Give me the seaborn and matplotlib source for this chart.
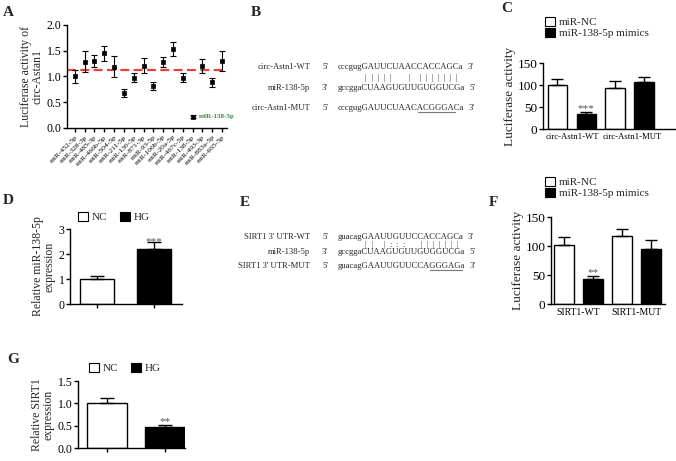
import numpy as np
import pandas as pd
import matplotlib
matplotlib.use("Agg")
import matplotlib.pyplot as plt
import seaborn as sns
from matplotlib.patches import Patch
from matplotlib.font_manager import FontProperties
from matplotlib.lines import Line2D

# ---------------- data ----------------
mirnas = ["miR-452-5p", "miR-328-3p", "miR-485-3p", "miR-466b-5p", "miR-504-5p",
          "miR-211-5p", "miR-136-5p", "miR-871-3p", "miR-93-5p", "miR-106b-5p",
          "miR-20a-5p", "miR-467c-5p", "miR-138-5p", "miR-493-3p", "miR-883a-5p",
          "miR-665-5p"]
luc_a = [1.00, 1.29, 1.30, 1.45, 1.19, 0.68, 0.98, 1.21, 0.82, 1.28, 1.53, 0.98,
         0.22, 1.20, 0.89, 1.30]
luc_a_err = [0.13, 0.20, 0.11, 0.14, 0.20, 0.07, 0.08, 0.15, 0.08, 0.10, 0.14, 0.08,
             0.03, 0.14, 0.09, 0.20]
ref_line = 1.12

c_groups = ["circ-Astn1-WT", "circ-Astn1-MUT"]
f_groups = ["SIRT1-WT", "SIRT1-MUT"]
mimic_conds = ["miR-NC", "miR-138-5p mimics"]
c_nc = [100, 94]
c_nc_err = [14, 15]
c_mim = [33, 106]
c_mim_err = [5, 12]
f_nc = [101, 117]
f_nc_err = [14, 12]
f_mim = [43, 95]
f_mim_err = [5, 16]

hg_conds = ["NC", "HG"]
d_vals = [1.0, 2.2]
d_err = [0.12, 0.30]
g_vals = [1.0, 0.47]
g_err = [0.13, 0.04]

seq_b = ["cccgugGAUUCUAACCACCAGCa", "gccggaCUAAGUGUUGUGGUCGa", "cccgugGAUUCUAACACGGGACa"]
names_b = ["circ-Astn1-WT", "miR-138-5p", "circ-Astn1-MUT"]
pairs_b = {6: "|", 7: "|", 8: "|", 9: "|", 10: "|", 13: "|", 15: "|", 16: "|", 17: "|",
           18: "|", 19: "|", 20: "|", 21: "|"}
under_b = (15, 21)

seq_e = ["guacagGAAUUGUUCCACCAGCa", "gccggaCUAAGUGUUGUGGUCGa", "guacagGAAUUGUUCCAGGGAGa"]
names_e = ["SIRT1 3' UTR-WT", "miR-138-5p", "SIRT1 3' UTR-MUT"]
pairs_e = {6: "|", 7: "|", 9: "|", 10: ":", 11: ":", 12: ":", 15: "|", 16: "|", 17: "|",
           18: "|", 19: "|", 20: "|", 21: "|"}
under_e = (17, 22)

# ---------------- style ----------------
sns.set_style("ticks")
plt.rcParams["font.family"] = ["Liberation Serif", "DejaVu Serif"]
plt.rcParams["axes.linewidth"] = 1.0
plt.rcParams["xtick.major.width"] = 1.0
plt.rcParams["ytick.major.width"] = 1.0
plt.rcParams["xtick.major.size"] = 3
plt.rcParams["ytick.major.size"] = 3
plt.rcParams["xtick.major.pad"] = 1.5
plt.rcParams["ytick.major.pad"] = 1
plt.rcParams["xtick.color"] = "black"
plt.rcParams["ytick.color"] = "black"
plt.rcParams["axes.edgecolor"] = "black"

W, H = 676, 461
fig = plt.figure(figsize=(W / 100, H / 100), dpi=100)


def rect(l, t, r, b):
    return [l / W, 1 - b / H, (r - l) / W, (b - t) / H]


def fx(x):
    return x / W


def fy(y):
    return 1 - y / H


def letter(x, y, s):
    fig.text(fx(x), fy(y), s, fontsize=11, fontweight="bold", ha="left", va="center")


# ---------------- Panel A ----------------
axA = fig.add_axes(rect(67, 25, 227, 128))
dfA = pd.DataFrame({"miRNA": mirnas, "value": luc_a})
axA.errorbar(np.arange(len(mirnas)), luc_a, yerr=luc_a_err, fmt="none",
             ecolor="black", elinewidth=0.8, capsize=2.4, capthick=0.8, zorder=2)
sns.scatterplot(data=dfA, x="miRNA", y="value", marker="s", s=10, color="black",
                edgecolor="black", linewidth=0.5, zorder=4, ax=axA)
axA.axhline(ref_line, color="#e8413a", lw=1.6, ls=(0, (4, 2)), zorder=1)
axA.set_ylim(0, 2.0)
axA.set_xlim(-0.8, 15.5)
axA.set_yticks([0, 0.5, 1.0, 1.5, 2.0])
axA.set_yticklabels(["0.0", "0.5", "1.0", "1.5", "2.0"], fontsize=8.5)
axA.set_xticks(range(len(mirnas)))
axA.set_xticklabels(mirnas, rotation=45, ha="right", rotation_mode="anchor", fontsize=5.4)
axA.set_xlabel("")
axA.set_ylabel("Luciferase activity of\ncirc-Astan1", fontsize=8.5, labelpad=2, linespacing=1.0)
sns.despine(ax=axA)
axA.text(12.6, 0.22, "miR-138-5p", color="#2e8b3e", fontsize=5, fontweight="bold",
         ha="left", va="center")
letter(3, 13, "A")


# ---------------- helper for mimic bar panels ----------------
def mimic_panel(r, groups, nc, nc_err, mim, mim_err, stars, xfs):
    ax = fig.add_axes(r)
    df = pd.DataFrame({
        "group": groups * 2,
        "cond": [mimic_conds[0]] * len(groups) + [mimic_conds[1]] * len(groups),
        "value": list(nc) + list(mim),
        "err": list(nc_err) + list(mim_err),
    })
    sns.barplot(data=df, x="group", y="value", hue="cond", hue_order=mimic_conds,
                palette={mimic_conds[0]: "white", mimic_conds[1]: "black"},
                edgecolor="black", linewidth=1.0, errorbar=None, legend=False,
                width=1.0, gap=0.32, ax=ax)
    for p in ax.patches:
        h = p.get_height()
        idx = int(np.argmin(np.abs(df["value"].values - h)))
        e = df["err"].values[idx]
        xc = p.get_x() + p.get_width() / 2
        ax.errorbar([xc], [h], yerr=[[0], [e]], fmt="none", ecolor="black",
                    elinewidth=1.0, capsize=4, capthick=1.0)
        if df["cond"].values[idx] == mimic_conds[1] and df["group"].values[idx] == groups[0]:
            ax.text(xc, h + e - 2, stars, ha="center", va="bottom", fontsize=8,
                    color="#555555")
    ax.set_ylim(0, 150)
    ax.set_yticks([0, 50, 100, 150])
    ax.tick_params(axis="y", labelsize=9.5)
    ax.tick_params(axis="x", labelsize=xfs, length=0, pad=3)
    ax.set_xlabel("")
    ax.set_ylabel("Luciferase activity", fontsize=9.5, labelpad=1)
    sns.despine(ax=ax)
    return ax


def mimic_legend(ax, x, y):
    handles = [Patch(facecolor="white", edgecolor="black", lw=0.8),
               Patch(facecolor="black", edgecolor="black", lw=0.8)]
    ax.legend(handles, mimic_conds, loc="upper left", bbox_to_anchor=(fx(x), fy(y)),
              bbox_transform=fig.transFigure, frameon=False, fontsize=8,
              handlelength=0.9, handleheight=0.9, handletextpad=0.35,
              labelspacing=0.05, borderpad=0, borderaxespad=0)


# ---------------- Panel C ----------------
axC = mimic_panel(rect(543, 63, 676, 129), c_groups, c_nc, c_nc_err, c_mim, c_mim_err,
                  "***", 6.3)
axC.set_xlim(-0.5, 1.8)
for lab, dx in zip(axC.get_xticklabels(), [-0.02, 0.12]):
    pass
# shift the second group label slightly to the right as in the reference
lbls = axC.get_xticklabels()
lbls[1].set_horizontalalignment("left")
lbls[1].set_x(0)
import matplotlib.transforms as mtransforms
lbls[1].set_transform(lbls[1].get_transform() + mtransforms.ScaledTranslation(-0.27, 0, fig.dpi_scale_trans))
mimic_legend(axC, 545, 17)
letter(501, 8, "C")

# ---------------- Panel F ----------------
axF = mimic_panel(rect(551, 217, 665, 304), f_groups, f_nc, f_nc_err, f_mim, f_mim_err,
                  "**", 7)
axF.set_xlim(-0.47, 1.49)
mimic_legend(axF, 545, 177)
letter(489, 203, "F")


# ---------------- NC / HG panels ----------------
def hg_panel(r, vals, errs, stars, ylab, yticks, yticklabels, xlim, legend_xy, bw):
    ax = fig.add_axes(r)
    df = pd.DataFrame({"cond": hg_conds, "value": vals, "err": errs})
    sns.barplot(data=df, x="cond", y="value", hue="cond",
                palette={"NC": "white", "HG": "black"}, edgecolor="black",
                linewidth=1.0, errorbar=None, legend=False, width=bw, ax=ax)
    for p in ax.patches:
        h = p.get_height()
        if h <= 0:
            continue
        idx = int(np.argmin(np.abs(df["value"].values - h)))
        e = df["err"].values[idx]
        xc = p.get_x() + p.get_width() / 2
        ax.errorbar([xc], [h], yerr=[[0], [e]], fmt="none", ecolor="black",
                    elinewidth=1.0, capsize=5, capthick=1.0)
        if df["cond"].values[idx] == "HG":
            ax.text(xc, h + e * 0.35, stars, ha="center", va="bottom", fontsize=8,
                    color="#555555")
    ax.set_ylim(yticks[0], yticks[-1])
    ax.set_yticks(yticks)
    ax.set_yticklabels(yticklabels, fontsize=8.5)
    ax.set_xlim(*xlim)
    ax.set_xticks([0, 1])
    ax.set_xticklabels(["", ""])
    ax.set_xlabel("")
    ax.set_ylabel(ylab, fontsize=8.5, labelpad=2, linespacing=1.0)
    sns.despine(ax=ax)
    handles = [Patch(facecolor="white", edgecolor="black", lw=0.8),
               Patch(facecolor="black", edgecolor="black", lw=0.8)]
    ax.legend(handles, hg_conds, loc="center left",
              bbox_to_anchor=(fx(legend_xy[0]), fy(legend_xy[1])),
              bbox_transform=fig.transFigure, frameon=False, fontsize=8, ncol=2,
              handlelength=0.9, handleheight=0.9, handletextpad=0.3,
              columnspacing=1.2, borderpad=0, borderaxespad=0)
    return ax


axD = hg_panel(rect(70, 229, 182, 304), d_vals, d_err, "***",
               "Relative miR-138-5p\nexpression", [0, 1, 2, 3], ["0", "1", "2", "3"],
               (-0.47, 1.49), (78, 217), 0.6)
letter(3, 200, "D")

axG = hg_panel(rect(78, 381, 185, 448), g_vals, g_err, "**",
               "Relative SIRT1\nexpression", [0, 0.5, 1.0, 1.5], ["0.0", "0.5", "1.0", "1.5"],
               (-0.5, 1.35), (89, 368), 0.7)
letter(7, 359, "G")

# ---------------- sequence panels (B, E) ----------------
fig.canvas.draw()
renderer = fig.canvas.get_renderer()
fs_seq = 6.2
fp = FontProperties(family="Liberation Serif", size=fs_seq)


def tw(s):
    if not s:
        return 0.0
    return renderer.get_text_width_height_descent(s, fp, ismath=False)[0]


def seq_block(names, seqs, pairs, under, ys, pair_y, x_name, x_end, x_seq):
    for i, (nm, sq, y) in enumerate(zip(names, seqs, ys)):
        fig.text(fx(x_name), fy(y), nm, fontsize=fs_seq, ha="right", va="center")
        e5 = "3'" if i == 1 else "5'"
        e3 = "5'" if i == 1 else "3'"
        fig.text(fx(x_end), fy(y), e5, fontsize=fs_seq, ha="left", va="center")
        fig.text(fx(x_seq), fy(y), sq, fontsize=fs_seq, ha="left", va="center")
        fig.text(fx(x_seq + tw(sq) + 4), fy(y), e3, fontsize=fs_seq, ha="left", va="center")
    top = seqs[0]
    for idx, mark in pairs.items():
        xc = x_seq + tw(top[:idx]) + tw(top[idx]) / 2
        fig.text(fx(xc), fy(pair_y), mark, fontsize=fs_seq, ha="center", va="center")
    mut = seqs[2]
    x1 = x_seq + tw(mut[:under[0]])
    x2 = x_seq + tw(mut[:under[1]])
    yl = ys[2] + 4
    fig.add_artist(Line2D([fx(x1), fx(x2)], [fy(yl), fy(yl)], color="#777777", lw=0.8,
                          transform=fig.transFigure))


seq_block(names_b, seq_b, pairs_b, under_b, [67, 88, 108], 77.5, 310, 322, 338)
letter(251, 12, "B")
seq_block(names_e, seq_e, pairs_e, under_e, [237, 252, 266], 244.5, 310, 322, 338)
letter(240, 202, "E")

fig.savefig("out.png", dpi=100)
